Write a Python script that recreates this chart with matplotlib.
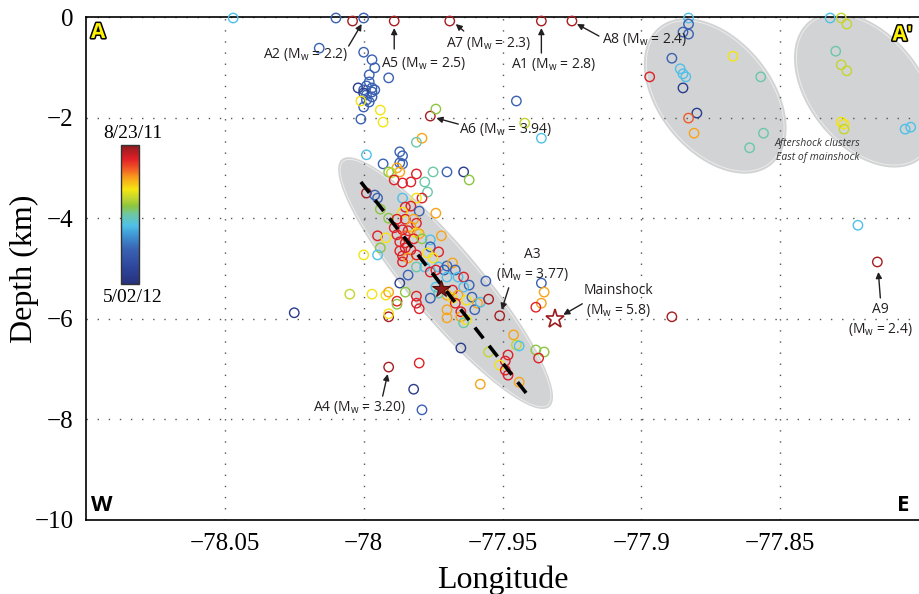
import numpy as np
import matplotlib
matplotlib.use('Agg')
import matplotlib.pyplot as plt
from matplotlib.colors import LinearSegmentedColormap, Normalize
from matplotlib.colorbar import ColorbarBase
from matplotlib.patches import Polygon
from matplotlib.transforms import offset_copy
import matplotlib.patheffects as pe

# ---- aftershock hypocentres: longitude (deg), depth (km), days after 8/23/11 ----
surf_lon = [-78.047, -78.010, -78.004, -78.000, -77.989, -77.969, -77.936, -77.925,
            -77.883, -77.832, -77.828]
surf_dep = [-0.02, -0.02, -0.08, -0.02, -0.08, -0.08, -0.08, -0.08, -0.02, -0.02, -0.02]
surf_day = [147, 190, 8, 190, 8, 8, 8, 8, 147, 147, 96]

shallow_lon = [-78.016, -78.000, -77.997, -77.996, -77.998, -77.991, -77.998, -78.002,
               -77.999, -77.997, -78.000, -77.997, -77.996, -77.999, -78.000, -77.997,
               -77.999, -77.998, -78.000, -78.001, -77.994, -77.993, -78.001, -77.976,
               -77.974, -77.979, -77.981]
shallow_dep = [-0.62, -0.70, -0.85, -1.01, -1.15, -1.21, -1.29, -1.41, -1.37, -1.41,
               -1.45, -1.49, -1.45, -1.55, -1.51, -1.59, -1.65, -1.69, -1.79, -1.67,
               -1.85, -2.09, -2.03, -1.97, -1.83, -2.41, -2.49]
shallow_day = [190, 190, 190, 190, 190, 190, 190, 238, 190, 190, 190, 190, 190, 190,
               238, 190, 190, 190, 190, 81, 81, 81, 190, 8, 111, 61, 127]

fault_lon = [-77.999, -77.987, -77.986, -77.993, -77.987, -77.986, -77.988, -77.987,
             -77.991, -77.990, -77.981, -77.975, -77.970, -77.964, -77.962, -77.989,
             -77.986, -77.983, -77.978, -77.977, -77.979, -77.981, -77.999, -77.996,
             -77.995, -77.994, -77.986, -77.985, -77.983, -77.980, -77.974, -77.986,
             -77.991, -77.988, -77.985, -77.982, -77.981, -77.983, -77.989, -77.986,
             -77.984, -77.981, -77.980, -77.972, -77.995, -77.992, -77.988, -77.985,
             -77.987, -77.985, -77.982, -77.979, -77.976, -77.994, -77.985, -77.983,
             -77.987, -77.976, -77.973, -77.977, -78.000, -77.995, -77.986, -77.984,
             -77.981, -77.975, -77.986, -77.981, -77.978, -77.984, -77.976, -77.973,
             -77.971, -77.970, -77.974, -77.970, -77.968, -77.967, -77.966, -77.964,
             -77.962, -77.964, -77.968, -77.970, -77.968, -77.966, -77.967, -77.963,
             -77.961, -77.959, -77.960, -77.965, -77.970, -77.965, -77.963, -77.964,
             -77.970, -77.974, -77.973, -77.976, -77.987, -77.985, -77.981, -77.981,
             -77.980, -78.005, -77.997, -77.992, -77.991, -77.988, -77.988, -77.991,
             -77.991, -78.025]
fault_dep = [-2.74, -2.68, -2.76, -2.92, -2.90, -2.92, -3.00, -3.08, -3.08, -3.10,
             -3.12, -3.08, -3.08, -3.08, -3.24, -3.24, -3.30, -3.28, -3.28, -3.48,
             -3.60, -3.60, -3.50, -3.54, -3.60, -3.82, -3.60, -3.78, -3.76, -3.86,
             -3.90, -3.88, -4.00, -4.02, -4.02, -4.02, -4.10, -4.17, -4.19, -4.23,
             -4.25, -4.29, -4.31, -4.35, -4.35, -4.39, -4.33, -4.35, -4.47, -4.49,
             -4.41, -4.41, -4.43, -4.59, -4.59, -4.63, -4.65, -4.57, -4.67, -4.69,
             -4.73, -4.73, -4.75, -4.79, -4.73, -4.79, -4.87, -4.97, -4.97, -5.13,
             -5.07, -4.97, -5.03, -5.17, -5.03, -4.95, -4.89, -5.03, -5.17, -5.17,
             -5.33, -5.37, -5.43, -5.53, -5.59, -5.53, -5.69, -5.63, -5.57, -5.69,
             -5.82, -5.86, -5.82, -5.96, -6.02, -6.08, -5.98, -5.37, -5.49, -5.59,
             -5.29, -5.47, -5.55, -5.69, -5.80, -5.51, -5.51, -5.53, -5.47, -5.65,
             -5.71, -5.96, -5.90, -5.88]
fault_day = [147, 190, 190, 190, 190, 190, 61, 61, 111, 96, 25, 127, 190, 238, 111,
             25, 25, 25, 127, 127, 25, 81, 8, 190, 190, 111, 147, 25, 25, 190, 61, 81,
             111, 25, 25, 61, 25, 61, 25, 25, 25, 81, 61, 61, 25, 81, 25, 43, 25, 25,
             25, 111, 147, 111, 25, 25, 25, 190, 25, 81, 81, 147, 25, 61, 25, 81, 25,
             127, 147, 190, 25, 147, 190, 147, 25, 190, 61, 190, 147, 25, 190, 147, 25,
             61, 81, 61, 25, 81, 190, 61, 190, 25, 61, 61, 81, 127, 61, 147, 127, 190,
             238, 111, 25, 25, 25, 96, 81, 81, 61, 25, 111, 8, 81, 238]

deep_lon = [-77.956, -77.958, -77.955, -77.951, -77.965, -77.955, -77.948, -77.949,
            -77.951, -77.949, -77.948, -77.944, -77.958, -77.946, -77.945, -77.944,
            -77.938, -77.935, -77.937, -77.936, -77.935, -77.936, -77.938, -77.889,
            -77.991, -77.980, -77.982, -77.979]
deep_dep = [-5.25, -5.67, -5.61, -5.94, -6.58, -6.66, -6.72, -6.84, -6.92, -7.02, -7.12,
            -7.26, -7.30, -6.32, -6.52, -6.54, -6.62, -6.66, -6.78, -5.29, -5.47, -5.69,
            -5.77, -5.96, -6.96, -6.88, -7.40, -7.81]
deep_day = [190, 147, 8, 8, 238, 96, 25, 25, 81, 25, 25, 61, 61, 61, 96, 147, 111, 111,
            25, 190, 61, 61, 25, 8, 8, 25, 238, 190]

east_lon = [-77.945, -77.942, -77.936, -77.822, -77.815, -77.883, -77.885, -77.883,
            -77.889, -77.886, -77.885, -77.884, -77.885, -77.897, -77.867, -77.857,
            -77.880, -77.883, -77.881, -77.856, -77.861, -77.826, -77.830, -77.828,
            -77.826, -77.828, -77.827, -77.827, -77.805, -77.803]
east_dep = [-1.67, -2.11, -2.41, -4.14, -4.87, -0.14, -0.30, -0.34, -0.82, -1.03, -1.13,
            -1.19, -1.41, -1.19, -0.78, -1.19, -1.91, -2.01, -2.31, -2.31, -2.60, -0.14,
            -0.68, -0.95, -1.07, -2.09, -2.13, -2.23, -2.23, -2.19]
east_day = [190, 96, 147, 147, 8, 190, 190, 190, 190, 147, 147, 147, 238, 25, 81, 127,
            238, 43, 61, 127, 127, 96, 127, 96, 96, 81, 81, 96, 147, 147]

# labelled events
ev_name = ['A1', 'A2', 'A3', 'A4', 'A5', 'A6', 'A7', 'A8', 'A9']
ev_mw = ['2.8', '2.2', '3.77', '3.20', '2.5', '3.94', '2.3', '2.4', '2.4']
ev_lon = [-77.936, -78.000, -77.951, -77.991, -77.989, -77.976, -77.969, -77.925, -77.815]
ev_dep = [-0.08, -0.02, -5.94, -6.96, -0.08, -1.97, -0.08, -0.08, -4.87]

main_lon, main_dep, main_mw = -77.931, -6.00, '5.8'      # catalogue mainshock
reloc_lon, reloc_dep = -77.972, -5.41                  # relocated mainshock
fault_trace_lon = [-78.001, -77.941]
fault_trace_dep = [-3.28, -7.51]

# grey zones: centre, end of long axis, short/long axis ratio
zone_center = [(-77.9705, -5.29), (-77.8734, -1.57), (-77.8194, -1.45)]
zone_tip = [(-77.9331, -7.75), (-77.8532, -2.94), (-77.7993, -2.82)]
zone_ratio = [0.222, 0.64, 0.64]

date_first, date_last = '8/23/11', '5/02/12'
n_days = 253

xticks = [-78.05, -78.0, -77.95, -77.9, -77.85]
xticklabels = ['\u221278.05', '\u221278', '\u221277.95', '\u221277.9', '\u221277.85']
yticks = [0, -2, -4, -6, -8, -10]
yticklabels = ['0', '\u22122', '\u22124', '\u22126', '\u22128', '\u221210']

# ---- colours: late (bottom) to early (top) ----
stops = [(0.00, '#27327d'), (0.12, '#2d469b'), (0.25, '#3a62b3'), (0.35, '#3f95d3'),
         (0.42, '#50c0e8'), (0.50, '#6cc7a6'), (0.56, '#8cc641'), (0.62, '#c4d62f'),
         (0.68, '#f3e612'), (0.76, '#f8a51b'), (0.83, '#f15a25'), (0.90, '#e02027'),
         (1.00, '#8d1b1e')]
cmap = LinearSegmentedColormap.from_list('quake', stops).reversed()
norm = Normalize(0, n_days)

serif = 'Liberation Serif'
sans = ['Open Sans', 'DejaVu Sans']
ink = '#231f20'

fig = plt.figure(figsize=(9.19, 5.94), dpi=100)
ax = fig.add_axes([86 / 919, 74 / 594, 833 / 919, 503 / 594])
ax.set_xlim(-78.1, -77.8)
ax.set_ylim(-10, 0)


def zone_patch(center, tip, ratio, inset=0.0, **kw):
    tr = ax.transData
    c = tr.transform(center)
    u = tr.transform(tip) - c
    a = np.hypot(*u)
    v = np.array([-u[1], u[0]]) * ratio
    b = a * ratio
    u = u * (a - inset) / a
    v = v * (b - inset) / b
    th = np.linspace(0, 2 * np.pi, 300)
    pts = c + np.outer(np.cos(th), u) + np.outer(np.sin(th), v)
    return Polygon(tr.inverted().transform(pts), closed=True, **kw)


for c, t, r in zip(zone_center, zone_tip, zone_ratio):
    ax.add_patch(zone_patch(c, t, r, facecolor='#d2d3d4', edgecolor='none', zorder=1))
    ax.add_patch(zone_patch(c, t, r, inset=2.5, facecolor='none', edgecolor='#ececec',
                            lw=0.7, zorder=1.1))

ax.set_axisbelow('line')
ax.grid(True, linestyle=(0, (1, 7)), color='#555555', lw=1.0)

lon = surf_lon + shallow_lon + fault_lon + deep_lon + east_lon
dep = surf_dep + shallow_dep + fault_dep + deep_dep + east_dep
day = surf_day + shallow_day + fault_day + deep_day + east_day
ax.scatter(lon, dep, s=46, facecolors='none', edgecolors=cmap(norm(np.array(day))),
           linewidths=1.0, zorder=3, clip_on=False)

ax.plot(fault_trace_lon, fault_trace_dep, color='black', lw=2.6,
        linestyle=(0, (3.8, 2.6)), zorder=4)
ax.plot(reloc_lon, reloc_dep, marker='*', ms=13, color='#8b1a1a', mec='#4a0c0c',
        mew=0.8, zorder=5)
ax.plot(main_lon, main_dep, marker='*', ms=14, mfc='white', mec='#9b1b1f', mew=1.2,
        zorder=5)

# ---- annotations, offsets in pixels (text centre, arrow start, arrow tip) ----
lab_text = {'A1': (12, 43), 'A2': (-58, 36), 'A3': (33, -51), 'A4': (-29, 40),
            'A5': (29, 42), 'A6': (75, 13), 'A7': (39, 22), 'A8': (73, 18), 'A9': (3, 58)}
lab_from = {'A1': (0, 32), 'A2': (-15, 28), 'A3': (9, -28), 'A4': (-6, 29),
            'A5': (0, 28), 'A6': (28, 8), 'A7': (14, 10), 'A8': (27, 15), 'A9': (3, 36)}
lab_to = {'A1': (0, 7), 'A2': (-2, 6), 'A3': (2, -6), 'A4': (-1, 7),
          'A5': (0, 7), 'A6': (6, 2), 'A7': (6, 3), 'A8': (5, 3), 'A9': (1, 10)}
two_line = {'A3', 'A9'}


def off(dx, dy):
    return offset_copy(ax.transData, fig=fig, x=dx, y=-dy, units='dots')


def mw_text(m):
    return r'(M$_\mathregular{w}$ = ' + m + ')'


arrow = dict(arrowstyle='-|>', color=ink, lw=1.0, mutation_scale=9,
             shrinkA=0, shrinkB=0)
tkw = dict(family=sans, fontsize=10, color=ink, ha='center', va='center', zorder=6)

for n, m, x, y in zip(ev_name, ev_mw, ev_lon, ev_dep):
    tx, ty = lab_text[n]
    if n in two_line:
        ax.text(x, y, n, transform=off(tx, ty - 10), **tkw)
        ax.text(x, y, mw_text(m), transform=off(tx, ty + 10), **tkw)
    else:
        ax.text(x, y, n + ' ' + mw_text(m), transform=off(tx, ty), **tkw)
    ax.annotate('', xy=(x, y), xycoords=off(*lab_to[n]),
                xytext=(x, y), textcoords=off(*lab_from[n]), arrowprops=arrow,
                zorder=6)

ax.text(main_lon, main_dep, 'Mainshock', transform=off(63, -28), **tkw)
ax.text(main_lon, main_dep, mw_text(main_mw), transform=off(63, -8), **tkw)
ax.annotate('', xy=(main_lon, main_dep), xycoords=off(8, -4),
            xytext=(main_lon, main_dep), textcoords=off(27, -15), arrowprops=arrow)

ax.text(0.878, 0.735, 'Aftershock clusters\nEast of mainshock', transform=ax.transAxes,
        family=sans, fontsize=7.5, style='italic', color='#333333', ha='center',
        va='center', linespacing=1.35)

# section end labels
ax.text(0.006, 0.008, 'W', transform=ax.transAxes, family=sans, fontsize=16,
        fontweight='bold', color='black', ha='left', va='bottom')
ax.text(0.989, 0.008, 'E', transform=ax.transAxes, family=sans, fontsize=16,
        fontweight='bold', color='black', ha='right', va='bottom')
outline = [pe.withStroke(linewidth=2.2, foreground='black')]
ax.text(0.006, 0.99, 'A', transform=ax.transAxes, family=sans, fontsize=15,
        fontweight='bold', color='#fff200', ha='left', va='top', path_effects=outline)
ax.text(0.992, 0.985, 'A\u2032', transform=ax.transAxes, family=sans, fontsize=15,
        fontweight='bold', color='#fff200', ha='right', va='top', path_effects=outline)

# axes styling
ax.set_xticks(xticks)
ax.set_xticklabels(xticklabels, family=serif, fontsize=18)
ax.set_yticks(yticks)
ax.set_yticklabels(yticklabels, family=serif, fontsize=18)
ax.tick_params(length=0, pad=9)
ax.spines['right'].set_visible(False)
for s in ('left', 'top', 'bottom'):
    ax.spines[s].set_linewidth(1.2)
ax.set_xlabel('Longitude', family=serif, fontsize=23, labelpad=8)
ax.set_ylabel('Depth (km)', family=serif, fontsize=23)
ax.yaxis.set_label_coords(-0.056, 0.5)

# time colour bar
cax = fig.add_axes([121 / 919, 1 - 284 / 594, 18 / 919, 139 / 594])
cb = ColorbarBase(cax, cmap=cmap, norm=norm, orientation='vertical')
cax.invert_yaxis()
cax.set_xticks([])
cax.set_yticks([])
cb.outline.set_linewidth(1.0)
cb.outline.set_edgecolor('#333333')
fig.text(133 / 919, 1 - 134 / 594, date_first, family=serif, fontsize=14,
         ha='center', va='center')
fig.text(133 / 919, 1 - 297 / 594, date_last, family=serif, fontsize=14,
         ha='center', va='center')

fig.savefig('out.png', dpi=100)
